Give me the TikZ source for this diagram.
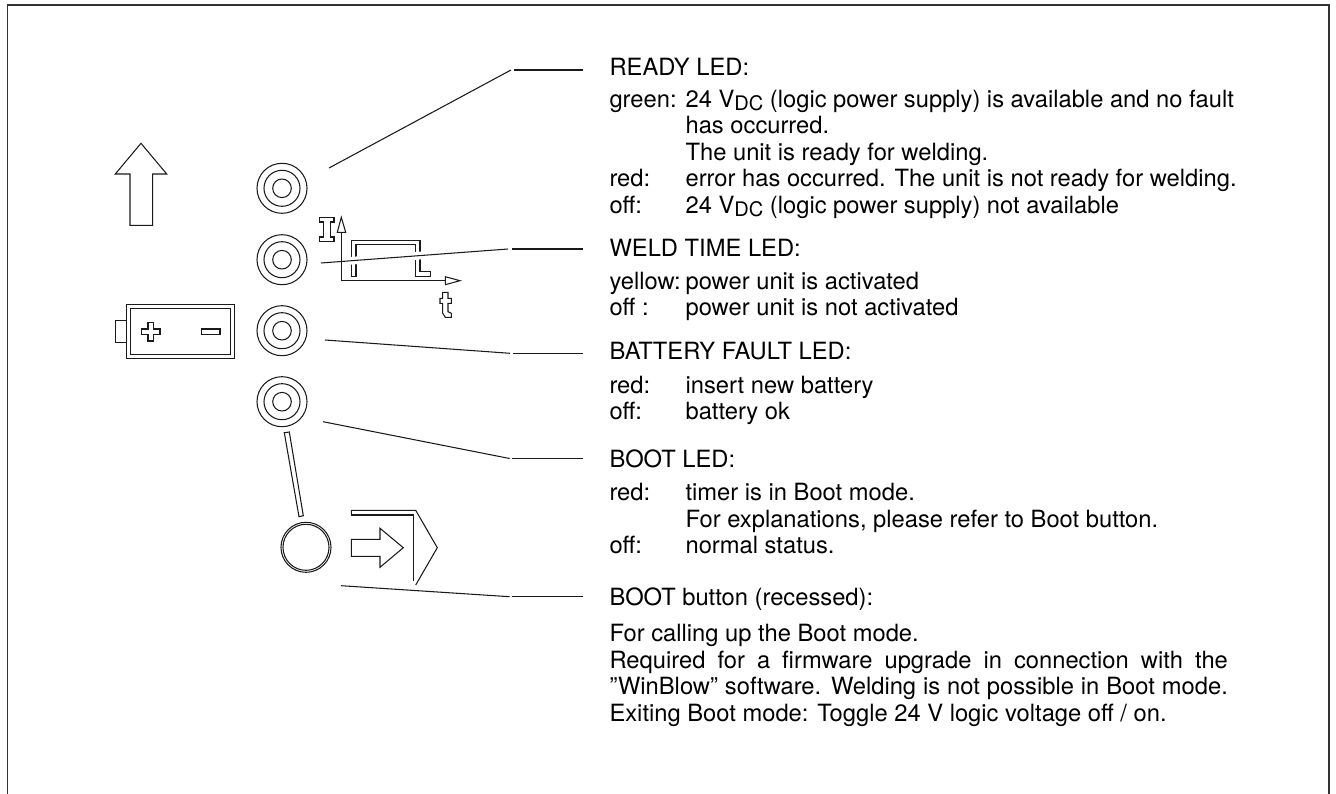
\documentclass[tikz,border=0pt]{standalone}
\usepackage{fontspec}
\setmainfont{TeX Gyre Heros}
\usepackage{array}
\usetikzlibrary{positioning}
\definecolor{Ink}{HTML}{1A1A1A}
\definecolor{FrameGray}{HTML}{333333}
\newcommand{\vdc}{V\raisebox{-0.3ex}{\fontsize{5.7}{7.54}\selectfont DC}}

\begin{document}
\begin{tikzpicture}[
    x=0.01cm, y=-0.01cm,
    every path/.style={draw=Ink, line width=0.3pt},
    led/.style={circle, draw=Ink, line width=0.3pt, inner sep=0pt},
    heading/.style={anchor=base west, inner sep=0pt, font=\fontsize{6.75}{7.54}\selectfont},
    body/.style={anchor=north west, inner sep=0pt, font=\fontsize{6.75}{7.54}\selectfont},
    halo/.style={preaction={draw=white, line width=2.2pt}}
  ]
    \useasboundingbox[draw=none] (0,0) rectangle (1336,794);
    \draw[draw=FrameGray, line width=0.45pt] (7.5,794) -- (7.5,5) -- (1329,5) -- (1329,794);

    % symbols on the left
    \draw (141,143.3) -- (166.7,174) -- (152.7,174) -- (152.7,225.3) -- (130,225.3) -- (130,174) -- (115.3,174) -- cycle;
    \draw (126.3,304.7) rectangle (234.3,358.7);
    \draw (130.3,308.7) rectangle (230.3,354.7);
    \draw (126.3,320.3) -- (115.3,320.3) -- (115.3,342.3) -- (126.3,342.3);
    \draw (148,322.4) -- (153.7,322.4) -- (153.7,329) -- (160,329) -- (160,334.4) -- (153.7,334.4) -- (153.7,341) -- (148,341) -- (148,334.4) -- (141.4,334.4) -- (141.4,329) -- (148,329) -- cycle;
    \draw (201.3,329) rectangle (220,334.3);

    % LEDs
    \node[led, minimum size=0.5cm] (ready) at (282,188.3) {};
    \node[led, minimum size=0.36cm] at (ready) {};
    \node[led, minimum size=0.186cm] at (ready) {};
    \node[led, minimum size=0.5cm] (weld) at (282,259.7) {};
    \node[led, minimum size=0.36cm] at (weld) {};
    \node[led, minimum size=0.186cm] at (weld) {};
    \node[led, minimum size=0.5cm] (battery) at (282,330.7) {};
    \node[led, minimum size=0.36cm] at (battery) {};
    \node[led, minimum size=0.186cm] at (battery) {};
    \node[led, minimum size=0.5cm] (bootled) at (282,401.7) {};
    \node[led, minimum size=0.36cm] at (bootled) {};
    \node[led, minimum size=0.186cm] at (bootled) {};
    \node[led, minimum size=0.5cm] (button) at (306,547.3) {};
    \node[led, minimum size=0.46cm] at (button) {};

    % link between boot LED and button
    \draw (284.3,432.7) -- (289.3,432) -- (303.3,515.7) -- (299,516.7) -- cycle;

    % boot symbol
    \draw (351.3,539.3) -- (380,539.3) -- (380,528.3) -- (403.3,547.7) -- (380,567.3) -- (380,556.3) -- (351.3,556.3) -- cycle;
    \draw (351.3,515) -- (351.3,510.3) -- (415.7,510.3) -- (437.3,547.7) -- (415.7,585);
    \draw (351.3,515) -- (413.7,515) -- (413.7,581);

    % pulse
    \draw (351.3,276.7) -- (351.3,240.7) -- (420,240.7) -- (420,271.7) -- (430.7,271.7) -- (430.7,276.7) -- (415.7,276.7) -- (415.7,244.7) -- (356,244.7) -- (356,276.7) -- cycle;

    % leaders
    \coordinate (readyfoot) at (329,168);
    \coordinate (readyknee) at (511,70);
    \coordinate (readystart) at (514,70);
    \coordinate (readyend) at (583,70);
    \coordinate (weldfoot) at (321,263);
    \coordinate (weldknee) at (508,249);
    \coordinate (weldstart) at (512,249);
    \coordinate (weldend) at (583,249);
    \coordinate (batteryfoot) at (325,340);
    \coordinate (batteryknee) at (510,353.3);
    \coordinate (batterystart) at (513.3,353.3);
    \coordinate (batteryend) at (583.3,353.3);
    \coordinate (bootfoot) at (323,421.7);
    \coordinate (bootknee) at (509.6,458.5);
    \coordinate (bootstart) at (512.4,458.5);
    \coordinate (bootend) at (583,458.5);
    \coordinate (buttonfoot) at (341,585.7);
    \coordinate (buttonknee) at (509.6,596.7);
    \coordinate (buttonstart) at (512.4,596.7);
    \coordinate (buttonend) at (583,596.7);
    \draw (readyfoot) -- (readyknee);
    \draw (readystart) -- (readyend);
    \draw[halo] (weldfoot) -- (weldknee);
    \draw (weldstart) -- (weldend);
    \draw (batteryfoot) -- (batteryknee);
    \draw (batterystart) -- (batteryend);
    \draw (bootfoot) -- (bootknee);
    \draw (bootstart) -- (bootend);
    \draw (buttonfoot) -- (buttonknee);
    \draw (buttonstart) -- (buttonend);

    % current and time axes
    \draw[line width=0.45pt] (341.3,232.3) -- (341.3,280.7) -- (445.3,280.7);
    \draw (341.3,217.3) -- (345.7,232.3) -- (337.3,232.3) -- cycle;
    \draw (445.3,276.7) -- (460,280.7) -- (445.3,284.7) -- cycle;
    \draw (319.3,217.7) -- (334,217.7) -- (334,222) -- (330.3,222) -- (330.3,237) -- (334,237) -- (334,241.7) -- (319.3,241.7) -- (319.3,237) -- (323.7,237) -- (323.7,222) -- (319.3,222) -- cycle;
    \draw (442.7,292.3) -- (448,292.3) -- (448,298.3) -- (451.3,298.3) -- (451.3,303.3) -- (448,303.3) -- (448,311.7) -- (451.3,313.3) -- (451.3,317.3) -- (445.3,317.3) -- (442.7,313.3) -- (442.7,303.3) -- (440,303.3) -- (440,298.3) -- (442.7,298.3) -- cycle;

    % texts
    \node[heading] (readyhead) at (609,76) {READY LED:};
    \node[body] (readytext) at (609,88) {\begin{tabular}{@{}p{0.76cm}@{}l@{}}
      green: & 24 \vdc{} (logic power supply) is available and no fault\\
             & has occurred.\\
             & The unit is ready for welding.\\
      red:   & error has occurred. The unit is not ready for welding.\\
      off:   & 24 \vdc{} (logic power supply) not available
    \end{tabular}};
    \node[heading] (weldhead) at (609,257) {WELD TIME LED:};
    \node[body] (weldtext) at (609,270) {\begin{tabular}{@{}p{0.76cm}@{}l@{}}
      yellow: & power unit is activated\\
      off :   & power unit is not activated
    \end{tabular}};
    \node[heading] (batteryhead) at (609,360) {BATTERY FAULT LED:};
    \node[body] (batterytext) at (609,374) {\begin{tabular}{@{}p{0.76cm}@{}l@{}}
      red: & insert new battery\\
      off: & battery ok
    \end{tabular}};
    \node[heading] (boothead) at (609,467) {BOOT LED:};
    \node[body] (boottext) at (609,481.5) {\begin{tabular}{@{}p{0.76cm}@{}l@{}}
      red: & timer is in Boot mode.\\
           & For explanations, please refer to Boot button.\\
      off: & normal status.
    \end{tabular}};
    \node[heading] (buttonhead) at (609,605) {BOOT button (recessed):};
    \node[body, text width=6.18cm, align=justify] (buttontext) at (609,624) {For calling up the Boot mode.\\
      Required for a firmware upgrade in connection with the\linebreak
      ”WinBlow” software. Welding is not possible in Boot mode.\linebreak
      Exiting Boot mode: Toggle 24 V logic voltage off / on.};
  \end{tikzpicture}
\end{document}
